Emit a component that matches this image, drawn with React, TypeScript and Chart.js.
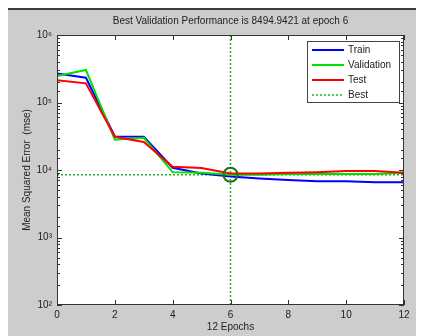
import React, { useEffect, useRef } from 'react';
import { Chart, registerables } from 'chart.js';

Chart.register(...registerables);

const epochs = [0, 1, 2, 3, 4, 5, 6, 7, 8, 9, 10, 11, 12];
const trainMse = [268000, 233000, 31400, 31000, 10800, 8900, 8000, 7500, 7100, 6800, 6800, 6600, 6600];
const validationMse = [247000, 304000, 28000, 30000, 9300, 9100, 8494.9421, 8500, 8700, 8700, 8700, 8700, 9100];
const testMse = [213000, 192000, 31000, 26000, 11200, 10700, 8900, 8900, 9100, 9300, 9700, 9700, 9100];
const bestEpoch = 6;
const bestPerf = 8494.9421;
const xMin = 0;
const xMax = 12;
const xStep = 2;
const yMin = 100;
const yMax = 1000000;
const titleText = 'Best Validation Performance is 8494.9421 at epoch 6';
const xTitle = '12 Epochs';
const yTitle = 'Mean Squared Error  (mse)';
const seriesLabels = ['Train', 'Validation', 'Test', 'Best'];

const SUP: Record<string, string> = { '0': '⁰', '1': '¹', '2': '²', '3': '³', '4': '⁴', '5': '⁵', '6': '⁶', '7': '⁷', '8': '⁸', '9': '⁹', '-': '⁻' };
const FONT = "'Liberation Sans', Arial, sans-serif";
const TEXT = '#222222';

const isDecade = (v: number) => {
  const l = Math.log10(v);
  return Math.abs(l - Math.round(l)) < 1e-9;
};

const framePlugin = {
  id: 'frame',
  beforeDraw(chart: any) {
    const { ctx, chartArea: a } = chart;
    ctx.save();
    ctx.fillStyle = '#ffffff';
    ctx.fillRect(a.left, a.top, a.right - a.left, a.bottom - a.top);
    ctx.restore();
  },
  afterDatasetsDraw(chart: any) {
    const { ctx, chartArea: a, scales } = chart;
    ctx.save();
    ctx.strokeStyle = '#333333';
    ctx.lineWidth = 1;
    ctx.strokeRect(Math.round(a.left) + 0.5, Math.round(a.top) + 0.5, Math.round(a.right - a.left) - 1, Math.round(a.bottom - a.top) - 1);
    ctx.beginPath();
    scales.x.ticks.forEach((t: any) => {
      const px = Math.round(scales.x.getPixelForValue(t.value)) + 0.5;
      ctx.moveTo(px, a.bottom);
      ctx.lineTo(px, a.bottom - 5);
      ctx.moveTo(px, a.top);
      ctx.lineTo(px, a.top + 5);
    });
    scales.y.ticks.forEach((t: any) => {
      const py = Math.round(scales.y.getPixelForValue(t.value)) + 0.5;
      const len = isDecade(t.value) ? 5 : 3;
      ctx.moveTo(a.left, py);
      ctx.lineTo(a.left + len, py);
      ctx.moveTo(a.right, py);
      ctx.lineTo(a.right - len, py);
    });
    ctx.stroke();
    ctx.restore();
  },
  afterDraw(chart: any) {
    const { ctx, chartArea: a } = chart;
    const w = 92;
    const h = 61;
    const x0 = Math.round(a.right - 5 - w);
    const y0 = Math.round(a.top + 6);
    ctx.save();
    ctx.fillStyle = '#ffffff';
    ctx.fillRect(x0, y0, w, h);
    ctx.strokeStyle = '#444444';
    ctx.lineWidth = 1;
    ctx.strokeRect(x0 + 0.5, y0 + 0.5, w, h);
    const ds = chart.data.datasets;
    seriesLabels.forEach((label, i) => {
      const d = ds.find((s: any) => s.label === label);
      if (!d) return;
      const y = y0 + 9 + i * 15;
      ctx.beginPath();
      ctx.strokeStyle = d.borderColor;
      ctx.lineWidth = d.borderWidth;
      ctx.setLineDash(d.borderDash || []);
      ctx.moveTo(x0 + 5, y);
      ctx.lineTo(x0 + 37, y);
      ctx.stroke();
      ctx.setLineDash([]);
      ctx.fillStyle = TEXT;
      ctx.font = `10px ${FONT}`;
      ctx.textBaseline = 'middle';
      ctx.textAlign = 'left';
      ctx.fillText(label, x0 + 41, y + 0.5);
    });
    ctx.restore();
  },
};

export default function App() {
  const ref = useRef<HTMLCanvasElement | null>(null);

  useEffect(() => {
    if (!ref.current) return;
    const pts = (arr: number[]) => epochs.map((e, i) => ({ x: e, y: arr[i] }));
    const chart = new Chart(ref.current, {
      type: 'line',
      data: {
        datasets: [
          { label: 'Train', data: pts(trainMse), borderColor: '#0000ff', borderWidth: 2, pointRadius: 0, fill: false, order: 3 },
          { label: 'Validation', data: pts(validationMse), borderColor: '#00e000', borderWidth: 2, pointRadius: 0, fill: false, order: 2 },
          { label: 'Test', data: pts(testMse), borderColor: '#ff0000', borderWidth: 2, pointRadius: 0, fill: false, order: 1 },
          { label: 'Best', data: [{ x: xMin, y: bestPerf }, { x: xMax, y: bestPerf }], borderColor: '#22b022', borderWidth: 1.5, borderDash: [2, 2], pointRadius: 0, fill: false, order: 4 },
          { label: 'BestV', data: [{ x: bestEpoch, y: yMin }, { x: bestEpoch, y: yMax }], borderColor: '#22b022', borderWidth: 1.5, borderDash: [2, 2], pointRadius: 0, fill: false, order: 4 },
          { label: 'BestPt', data: [{ x: bestEpoch, y: bestPerf }], showLine: false, pointRadius: 7, pointHoverRadius: 7, pointBorderWidth: 2, pointBorderColor: '#137a13', pointBackgroundColor: 'rgba(0,0,0,0)', borderColor: '#137a13', order: 0 },
        ],
      } as any,
      options: {
        animation: false,
        responsive: false,
        devicePixelRatio: 1,
        events: [],
        layout: { padding: { top: 0, right: 20, bottom: 0, left: 0 } },
        plugins: {
          legend: { display: false },
          tooltip: { enabled: false },
          title: {
            display: true,
            text: titleText,
            fullSize: false,
            color: TEXT,
            font: { family: FONT, size: 10, weight: 'normal' },
            padding: { top: 5, bottom: 8 },
          },
        },
        scales: {
          x: {
            type: 'linear',
            min: xMin,
            max: xMax,
            grid: { display: false, drawTicks: false },
            border: { display: false },
            ticks: { stepSize: xStep, padding: 4, color: TEXT, font: { family: FONT, size: 10 } },
            title: { display: true, text: xTitle, color: TEXT, font: { family: FONT, size: 10 }, padding: { top: 0, bottom: 3 } },
            afterFit: (s: any) => { s.height = 31; },
          },
          y: {
            type: 'logarithmic',
            min: yMin,
            max: yMax,
            grid: { display: false, drawTicks: false },
            border: { display: false },
            ticks: {
              autoSkip: false,
              padding: 5,
              color: TEXT,
              font: { family: FONT, size: 10 },
              callback: (v: any) => {
                const n = Number(v);
                if (!isDecade(n)) return '';
                const e = String(Math.round(Math.log10(n)));
                return '10' + e.split('').map((c) => SUP[c]).join('');
              },
            },
            title: { display: true, text: yTitle, color: TEXT, font: { family: FONT, size: 10 }, padding: { top: 13, bottom: 0 } },
            afterFit: (s: any) => { s.width = 49; },
          },
        },
      } as any,
      plugins: [framePlugin],
    });
    return () => chart.destroy();
  }, []);

  return (
    <div style={{ width: 416, height: 326, background: '#cdcdcd', borderTop: '2px solid #3c3c3c' }}>
      <canvas ref={ref} width={416} height={326} style={{ display: 'block', width: 416, height: 326 }} />
    </div>
  );
}
